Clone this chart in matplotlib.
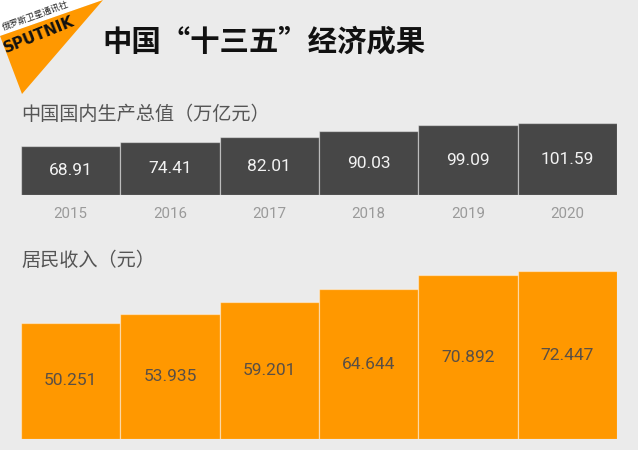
import matplotlib
matplotlib.use("Agg")
import matplotlib.pyplot as plt
from matplotlib.patches import Polygon

plt.rcParams['font.family'] = ['Noto Sans CJK SC', 'DejaVu Sans']

years = ["2015", "2016", "2017", "2018", "2019", "2020"]
gdp = [68.91, 74.41, 82.01, 90.03, 99.09, 101.59]
income = [50.251, 53.935, 59.201, 64.644, 70.892, 72.447]
gdp_labels = ["68.91", "74.41", "82.01", "90.03", "99.09", "101.59"]
income_labels = ["50.251", "53.935", "59.201", "64.644", "70.892", "72.447"]

title = "中国“十三五”经济成果"
gdp_title = "中国国内生产总值（万亿元）"
income_title = "居民收入（元）"

W, H = 638, 450
BG = "#ebebeb"
fig = plt.figure(figsize=(W / 100, H / 100), dpi=100, facecolor=BG)

def fx(px):
    return px / W

def fy(py):
    return 1 - py / H

# logo
fig.patches.append(Polygon([[fx(0), fy(0)], [fx(103), fy(0)], [fx(0), fy(36)]],
                           closed=True, transform=fig.transFigure, facecolor="white", edgecolor="none"))
fig.patches.append(Polygon([[fx(103), fy(0)], [fx(0), fy(36)], [fx(22), fy(94)]],
                           closed=True, transform=fig.transFigure, facecolor="#ff9800", edgecolor="none"))
fig.text(fx(35), fy(16), "俄罗斯卫星通讯社", fontsize=6.3, rotation=20, ha="center", va="center",
         color="#222222", rotation_mode="anchor")
fig.text(fx(39), fy(35), "SPUTNIK", fontsize=11, rotation=22, ha="center", va="center",
         color="#111111", fontweight="bold", family="DejaVu Sans", rotation_mode="anchor")

fig.text(fx(102), fy(41), title, fontsize=21.2, fontweight="bold", color="#111111",
         ha="left", va="center")

fig.text(fx(21), fy(115), gdp_title, fontsize=13.8, color="#555555", ha="left", va="center")
fig.text(fx(21), fy(260), income_title, fontsize=13.8, color="#555555", ha="left", va="center")

x = list(range(len(years)))

# top axes
scale_top = 0.713
ymax_top = 110
bottom_top = 195.5
ax1 = fig.add_axes([fx(21), fy(bottom_top), fx(596), ymax_top * scale_top / H])
ax1.bar(x, gdp, width=1.0, color="#474747", edgecolor=(1, 1, 1, 0.45), linewidth=0.9)
for i, v in enumerate(gdp):
    ax1.text(i, v / 2, gdp_labels[i], ha="center", va="center", color="#f2f2f2",
             fontsize=12.5, family="Roboto")
ax1.set_xlim(-0.5, len(years) - 0.5)
ax1.set_ylim(0, ymax_top)
ax1.axis("off")
for i, yl in enumerate(years):
    fig.text(fx(21 + 596 / 6 * (i + 0.5)), fy(213.5), yl, ha="center", va="center",
             color="#9a9a9a", fontsize=10.8, family="Roboto")

# bottom axes
scale_bot = 2.313
ymax_bot = 80
bottom_bot = 439
ax2 = fig.add_axes([fx(21), fy(bottom_bot), fx(596), ymax_bot * scale_bot / H])
ax2.bar(x, income, width=1.0, color="#ff9800", edgecolor=(1, 1, 1, 0.45), linewidth=0.9)
for i, v in enumerate(income):
    ax2.text(i, v / 2, income_labels[i], ha="center", va="center", color="#5a4f45",
             fontsize=12.5, family="Roboto")
ax2.set_xlim(-0.5, len(years) - 0.5)
ax2.set_ylim(0, ymax_bot)
ax2.axis("off")

fig.savefig("out.png", dpi=100, facecolor=BG)
